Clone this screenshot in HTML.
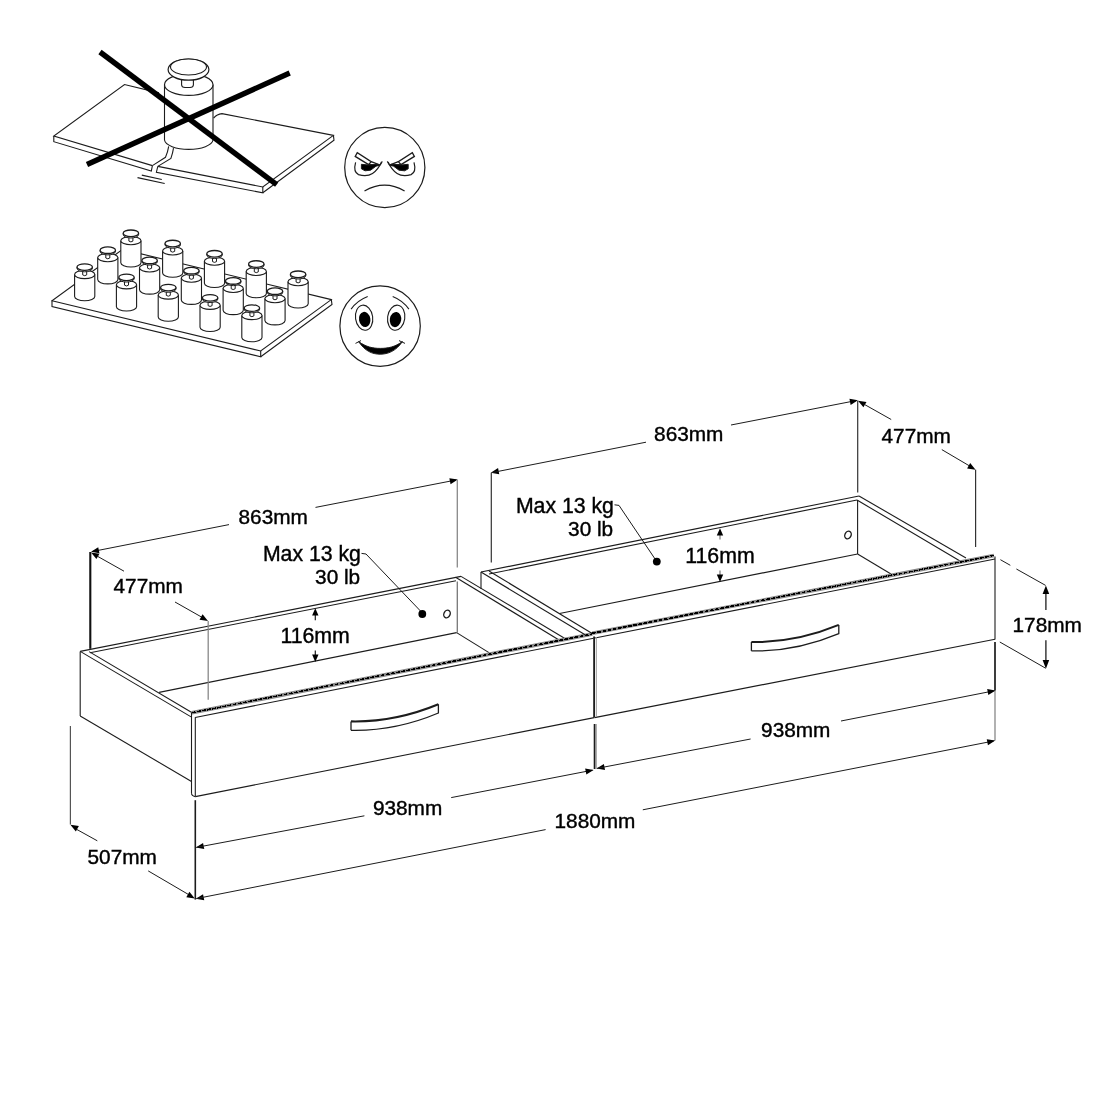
<!DOCTYPE html>
<html><head><meta charset="utf-8"><title>Drawer dimensions</title>
<style>html,body{margin:0;padding:0;background:#fff}svg{display:block;will-change:transform}text{font-family:"Liberation Sans",sans-serif;fill:#000;stroke:#000;stroke-width:0.4px}</style>
</head><body>
<svg width="1100" height="1100" viewBox="0 0 1100 1100">
<rect width="1100" height="1100" fill="#fff"/>
<path d="M152.4,165.6 L53.8,136 L124.5,84.5 L159,92.9" stroke="#1c1c1c" stroke-width="1.1" fill="none" />
<path d="M53.8,136 L53.8,141.7 L151.3,171.1 L152.4,165.6" stroke="#1c1c1c" stroke-width="1.1" fill="none" />
<path d="M152.4,165.6 L165.5,157.3 Q167.8,152 168.7,146.4" stroke="#1c1c1c" stroke-width="1.1" fill="none" />
<path d="M157.8,166.4 L170.9,158.4 Q172.8,153 173.5,148.2" stroke="#1c1c1c" stroke-width="1.1" fill="none" />
<path d="M157.8,166.4 L262.8,187 L333.4,135.4 L222,113.6 Q217,114 213.6,118.2" stroke="#1c1c1c" stroke-width="1.1" fill="none" />
<path d="M157.8,166.4 L156.4,172.2 L262.8,192.8 L262.8,187" stroke="#1c1c1c" stroke-width="1.1" fill="none" />
<path d="M262.8,192.8 L334,140.3 L333.4,135.4" stroke="#1c1c1c" stroke-width="1.1" fill="none" />
<line x1="141.80" y1="175.10" x2="161.80" y2="179.50" stroke="#1c1c1c" stroke-width="1.1" />
<line x1="137.50" y1="177.60" x2="164.70" y2="183.50" stroke="#1c1c1c" stroke-width="1.1" />
<path d="M164.5,84.7 L164.5,140 A24.3,10 0 0 0 213,140 L213,84.7" stroke="#1c1c1c" stroke-width="1.1" fill="#fff" />
<ellipse cx="188.75" cy="84.7" rx="24.25" ry="10.7" fill="#fff" stroke="#1c1c1c" stroke-width="1.2"/>
<path d="M181.6,79 L181.6,85 Q181.8,87.4 185,87.5 L190,87.5 Q193.2,87.4 193.4,85 L193.4,79" stroke="#1c1c1c" stroke-width="1.1" fill="#fff" />
<ellipse cx="188.5" cy="69.6" rx="20.4" ry="10.6" fill="#fff" stroke="#1c1c1c" stroke-width="1.2"/>
<ellipse cx="188.5" cy="67" rx="18" ry="8" fill="#fff" stroke="#1c1c1c" stroke-width="1.1"/>
<line x1="100.00" y1="52.00" x2="276.70" y2="184.60" stroke="#000" stroke-width="5.4" stroke-linecap="butt"/>
<line x1="87.00" y1="164.50" x2="289.70" y2="73.00" stroke="#000" stroke-width="5.4" stroke-linecap="butt"/>
<circle cx="384.8" cy="167.5" r="40.1" fill="none" stroke="#1c1c1c" stroke-width="1.2"/>
<path d="M357.30,152.6 L355.20,156.4 L368.60,164.6 L371.20,161.6 Z" stroke="#1c1c1c" stroke-width="1.3" fill="none" />
<path d="M368.60,164.6 L380.20,165.2 L371.20,161.6" stroke="#1c1c1c" stroke-width="1.3" fill="none" />
<path d="M380.20,165 L382.30,161.4" stroke="#1c1c1c" stroke-width="1.1" fill="none" />
<path d="M355.60,162.4 Q353.00,172 358.50,174.6 Q367.00,177 372.50,173.4 Q378.00,170 381.50,162" stroke="#1c1c1c" stroke-width="1.2" fill="none" />
<path d="M361.40,164.3 L361.40,168.8 L365.00,170.8 L370.60,170.2 L376.00,166.2 L379.60,165.2 L378.00,164.3 L368.50,165 Z" stroke="#1c1c1c" stroke-width="1" fill="#000" />
<path d="M412.30,152.6 L414.40,156.4 L401.00,164.6 L398.40,161.6 Z" stroke="#1c1c1c" stroke-width="1.3" fill="none" />
<path d="M401.00,164.6 L389.40,165.2 L398.40,161.6" stroke="#1c1c1c" stroke-width="1.3" fill="none" />
<path d="M389.40,165 L387.30,161.4" stroke="#1c1c1c" stroke-width="1.1" fill="none" />
<path d="M414.00,162.4 Q416.60,172 411.10,174.6 Q402.60,177 397.10,173.4 Q391.60,170 388.10,162" stroke="#1c1c1c" stroke-width="1.2" fill="none" />
<path d="M408.20,164.3 L408.20,168.8 L404.60,170.8 L399.00,170.2 L393.60,166.2 L390.00,165.2 L391.60,164.3 L401.10,165 Z" stroke="#1c1c1c" stroke-width="1" fill="#000" />
<path d="M364.5,191 Q384.6,179.4 404.6,191" stroke="#1c1c1c" stroke-width="1.3" fill="none" />
<path d="M52,300.8 L260.7,351 L331.3,299.6 L122.6,249.4 Z" stroke="#1c1c1c" stroke-width="1.1" fill="none" />
<path d="M52,300.8 L52,306.5 L260.7,356.8 L260.7,351" stroke="#1c1c1c" stroke-width="1.1" fill="none" />
<path d="M260.7,356.8 L332.0,304.5 L331.3,299.6" stroke="#1c1c1c" stroke-width="1.1" fill="none" />
<path d="M120.80,240.70 L120.80,262.70 A10.1,4.3 0 0 0 141.00,262.70 L141.00,240.70" stroke="#1c1c1c" stroke-width="1.1" fill="#fff" />
<ellipse cx="130.90" cy="240.70" rx="10.1" ry="4.1" fill="#fff" stroke="#1c1c1c" stroke-width="1.1"/>
<path d="M128.90,236.70 L128.90,241.10 Q130.90,242.70 132.90,241.10 L132.90,236.70" stroke="#1c1c1c" stroke-width="1" fill="#fff" />
<path d="M123.20,233.30 L123.20,234.50 A7.7,3.5 0 0 0 138.60,234.50 L138.60,233.30" stroke="#1c1c1c" stroke-width="1" fill="#fff" />
<ellipse cx="130.90" cy="233.30" rx="7.7" ry="3.3" fill="#fff" stroke="#1c1c1c" stroke-width="1.3"/>
<path d="M162.60,250.95 L162.60,272.95 A10.1,4.3 0 0 0 182.80,272.95 L182.80,250.95" stroke="#1c1c1c" stroke-width="1.1" fill="#fff" />
<ellipse cx="172.70" cy="250.95" rx="10.1" ry="4.1" fill="#fff" stroke="#1c1c1c" stroke-width="1.1"/>
<path d="M170.70,246.95 L170.70,251.35 Q172.70,252.95 174.70,251.35 L174.70,246.95" stroke="#1c1c1c" stroke-width="1" fill="#fff" />
<path d="M165.00,243.55 L165.00,244.75 A7.7,3.5 0 0 0 180.40,244.75 L180.40,243.55" stroke="#1c1c1c" stroke-width="1" fill="#fff" />
<ellipse cx="172.70" cy="243.55" rx="7.7" ry="3.3" fill="#fff" stroke="#1c1c1c" stroke-width="1.3"/>
<path d="M204.40,261.20 L204.40,283.20 A10.1,4.3 0 0 0 224.60,283.20 L224.60,261.20" stroke="#1c1c1c" stroke-width="1.1" fill="#fff" />
<ellipse cx="214.50" cy="261.20" rx="10.1" ry="4.1" fill="#fff" stroke="#1c1c1c" stroke-width="1.1"/>
<path d="M212.50,257.20 L212.50,261.60 Q214.50,263.20 216.50,261.60 L216.50,257.20" stroke="#1c1c1c" stroke-width="1" fill="#fff" />
<path d="M206.80,253.80 L206.80,255.00 A7.7,3.5 0 0 0 222.20,255.00 L222.20,253.80" stroke="#1c1c1c" stroke-width="1" fill="#fff" />
<ellipse cx="214.50" cy="253.80" rx="7.7" ry="3.3" fill="#fff" stroke="#1c1c1c" stroke-width="1.3"/>
<path d="M246.20,271.45 L246.20,293.45 A10.1,4.3 0 0 0 266.40,293.45 L266.40,271.45" stroke="#1c1c1c" stroke-width="1.1" fill="#fff" />
<ellipse cx="256.30" cy="271.45" rx="10.1" ry="4.1" fill="#fff" stroke="#1c1c1c" stroke-width="1.1"/>
<path d="M254.30,267.45 L254.30,271.85 Q256.30,273.45 258.30,271.85 L258.30,267.45" stroke="#1c1c1c" stroke-width="1" fill="#fff" />
<path d="M248.60,264.05 L248.60,265.25 A7.7,3.5 0 0 0 264.00,265.25 L264.00,264.05" stroke="#1c1c1c" stroke-width="1" fill="#fff" />
<ellipse cx="256.30" cy="264.05" rx="7.7" ry="3.3" fill="#fff" stroke="#1c1c1c" stroke-width="1.3"/>
<path d="M288.00,281.70 L288.00,303.70 A10.1,4.3 0 0 0 308.20,303.70 L308.20,281.70" stroke="#1c1c1c" stroke-width="1.1" fill="#fff" />
<ellipse cx="298.10" cy="281.70" rx="10.1" ry="4.1" fill="#fff" stroke="#1c1c1c" stroke-width="1.1"/>
<path d="M296.10,277.70 L296.10,282.10 Q298.10,283.70 300.10,282.10 L300.10,277.70" stroke="#1c1c1c" stroke-width="1" fill="#fff" />
<path d="M290.40,274.30 L290.40,275.50 A7.7,3.5 0 0 0 305.80,275.50 L305.80,274.30" stroke="#1c1c1c" stroke-width="1" fill="#fff" />
<ellipse cx="298.10" cy="274.30" rx="7.7" ry="3.3" fill="#fff" stroke="#1c1c1c" stroke-width="1.3"/>
<path d="M97.70,257.60 L97.70,279.60 A10.1,4.3 0 0 0 117.90,279.60 L117.90,257.60" stroke="#1c1c1c" stroke-width="1.1" fill="#fff" />
<ellipse cx="107.80" cy="257.60" rx="10.1" ry="4.1" fill="#fff" stroke="#1c1c1c" stroke-width="1.1"/>
<path d="M105.80,253.60 L105.80,258.00 Q107.80,259.60 109.80,258.00 L109.80,253.60" stroke="#1c1c1c" stroke-width="1" fill="#fff" />
<path d="M100.10,250.20 L100.10,251.40 A7.7,3.5 0 0 0 115.50,251.40 L115.50,250.20" stroke="#1c1c1c" stroke-width="1" fill="#fff" />
<ellipse cx="107.80" cy="250.20" rx="7.7" ry="3.3" fill="#fff" stroke="#1c1c1c" stroke-width="1.3"/>
<path d="M139.50,267.85 L139.50,289.85 A10.1,4.3 0 0 0 159.70,289.85 L159.70,267.85" stroke="#1c1c1c" stroke-width="1.1" fill="#fff" />
<ellipse cx="149.60" cy="267.85" rx="10.1" ry="4.1" fill="#fff" stroke="#1c1c1c" stroke-width="1.1"/>
<path d="M147.60,263.85 L147.60,268.25 Q149.60,269.85 151.60,268.25 L151.60,263.85" stroke="#1c1c1c" stroke-width="1" fill="#fff" />
<path d="M141.90,260.45 L141.90,261.65 A7.7,3.5 0 0 0 157.30,261.65 L157.30,260.45" stroke="#1c1c1c" stroke-width="1" fill="#fff" />
<ellipse cx="149.60" cy="260.45" rx="7.7" ry="3.3" fill="#fff" stroke="#1c1c1c" stroke-width="1.3"/>
<path d="M181.30,278.10 L181.30,300.10 A10.1,4.3 0 0 0 201.50,300.10 L201.50,278.10" stroke="#1c1c1c" stroke-width="1.1" fill="#fff" />
<ellipse cx="191.40" cy="278.10" rx="10.1" ry="4.1" fill="#fff" stroke="#1c1c1c" stroke-width="1.1"/>
<path d="M189.40,274.10 L189.40,278.50 Q191.40,280.10 193.40,278.50 L193.40,274.10" stroke="#1c1c1c" stroke-width="1" fill="#fff" />
<path d="M183.70,270.70 L183.70,271.90 A7.7,3.5 0 0 0 199.10,271.90 L199.10,270.70" stroke="#1c1c1c" stroke-width="1" fill="#fff" />
<ellipse cx="191.40" cy="270.70" rx="7.7" ry="3.3" fill="#fff" stroke="#1c1c1c" stroke-width="1.3"/>
<path d="M223.10,288.35 L223.10,310.35 A10.1,4.3 0 0 0 243.30,310.35 L243.30,288.35" stroke="#1c1c1c" stroke-width="1.1" fill="#fff" />
<ellipse cx="233.20" cy="288.35" rx="10.1" ry="4.1" fill="#fff" stroke="#1c1c1c" stroke-width="1.1"/>
<path d="M231.20,284.35 L231.20,288.75 Q233.20,290.35 235.20,288.75 L235.20,284.35" stroke="#1c1c1c" stroke-width="1" fill="#fff" />
<path d="M225.50,280.95 L225.50,282.15 A7.7,3.5 0 0 0 240.90,282.15 L240.90,280.95" stroke="#1c1c1c" stroke-width="1" fill="#fff" />
<ellipse cx="233.20" cy="280.95" rx="7.7" ry="3.3" fill="#fff" stroke="#1c1c1c" stroke-width="1.3"/>
<path d="M264.90,298.60 L264.90,320.60 A10.1,4.3 0 0 0 285.10,320.60 L285.10,298.60" stroke="#1c1c1c" stroke-width="1.1" fill="#fff" />
<ellipse cx="275.00" cy="298.60" rx="10.1" ry="4.1" fill="#fff" stroke="#1c1c1c" stroke-width="1.1"/>
<path d="M273.00,294.60 L273.00,299.00 Q275.00,300.60 277.00,299.00 L277.00,294.60" stroke="#1c1c1c" stroke-width="1" fill="#fff" />
<path d="M267.30,291.20 L267.30,292.40 A7.7,3.5 0 0 0 282.70,292.40 L282.70,291.20" stroke="#1c1c1c" stroke-width="1" fill="#fff" />
<ellipse cx="275.00" cy="291.20" rx="7.7" ry="3.3" fill="#fff" stroke="#1c1c1c" stroke-width="1.3"/>
<path d="M74.60,274.50 L74.60,296.50 A10.1,4.3 0 0 0 94.80,296.50 L94.80,274.50" stroke="#1c1c1c" stroke-width="1.1" fill="#fff" />
<ellipse cx="84.70" cy="274.50" rx="10.1" ry="4.1" fill="#fff" stroke="#1c1c1c" stroke-width="1.1"/>
<path d="M82.70,270.50 L82.70,274.90 Q84.70,276.50 86.70,274.90 L86.70,270.50" stroke="#1c1c1c" stroke-width="1" fill="#fff" />
<path d="M77.00,267.10 L77.00,268.30 A7.7,3.5 0 0 0 92.40,268.30 L92.40,267.10" stroke="#1c1c1c" stroke-width="1" fill="#fff" />
<ellipse cx="84.70" cy="267.10" rx="7.7" ry="3.3" fill="#fff" stroke="#1c1c1c" stroke-width="1.3"/>
<path d="M116.40,284.75 L116.40,306.75 A10.1,4.3 0 0 0 136.60,306.75 L136.60,284.75" stroke="#1c1c1c" stroke-width="1.1" fill="#fff" />
<ellipse cx="126.50" cy="284.75" rx="10.1" ry="4.1" fill="#fff" stroke="#1c1c1c" stroke-width="1.1"/>
<path d="M124.50,280.75 L124.50,285.15 Q126.50,286.75 128.50,285.15 L128.50,280.75" stroke="#1c1c1c" stroke-width="1" fill="#fff" />
<path d="M118.80,277.35 L118.80,278.55 A7.7,3.5 0 0 0 134.20,278.55 L134.20,277.35" stroke="#1c1c1c" stroke-width="1" fill="#fff" />
<ellipse cx="126.50" cy="277.35" rx="7.7" ry="3.3" fill="#fff" stroke="#1c1c1c" stroke-width="1.3"/>
<path d="M158.20,295.00 L158.20,317.00 A10.1,4.3 0 0 0 178.40,317.00 L178.40,295.00" stroke="#1c1c1c" stroke-width="1.1" fill="#fff" />
<ellipse cx="168.30" cy="295.00" rx="10.1" ry="4.1" fill="#fff" stroke="#1c1c1c" stroke-width="1.1"/>
<path d="M166.30,291.00 L166.30,295.40 Q168.30,297.00 170.30,295.40 L170.30,291.00" stroke="#1c1c1c" stroke-width="1" fill="#fff" />
<path d="M160.60,287.60 L160.60,288.80 A7.7,3.5 0 0 0 176.00,288.80 L176.00,287.60" stroke="#1c1c1c" stroke-width="1" fill="#fff" />
<ellipse cx="168.30" cy="287.60" rx="7.7" ry="3.3" fill="#fff" stroke="#1c1c1c" stroke-width="1.3"/>
<path d="M200.00,305.25 L200.00,327.25 A10.1,4.3 0 0 0 220.20,327.25 L220.20,305.25" stroke="#1c1c1c" stroke-width="1.1" fill="#fff" />
<ellipse cx="210.10" cy="305.25" rx="10.1" ry="4.1" fill="#fff" stroke="#1c1c1c" stroke-width="1.1"/>
<path d="M208.10,301.25 L208.10,305.65 Q210.10,307.25 212.10,305.65 L212.10,301.25" stroke="#1c1c1c" stroke-width="1" fill="#fff" />
<path d="M202.40,297.85 L202.40,299.05 A7.7,3.5 0 0 0 217.80,299.05 L217.80,297.85" stroke="#1c1c1c" stroke-width="1" fill="#fff" />
<ellipse cx="210.10" cy="297.85" rx="7.7" ry="3.3" fill="#fff" stroke="#1c1c1c" stroke-width="1.3"/>
<path d="M241.80,315.50 L241.80,337.50 A10.1,4.3 0 0 0 262.00,337.50 L262.00,315.50" stroke="#1c1c1c" stroke-width="1.1" fill="#fff" />
<ellipse cx="251.90" cy="315.50" rx="10.1" ry="4.1" fill="#fff" stroke="#1c1c1c" stroke-width="1.1"/>
<path d="M249.90,311.50 L249.90,315.90 Q251.90,317.50 253.90,315.90 L253.90,311.50" stroke="#1c1c1c" stroke-width="1" fill="#fff" />
<path d="M244.20,308.10 L244.20,309.30 A7.7,3.5 0 0 0 259.60,309.30 L259.60,308.10" stroke="#1c1c1c" stroke-width="1" fill="#fff" />
<ellipse cx="251.90" cy="308.10" rx="7.7" ry="3.3" fill="#fff" stroke="#1c1c1c" stroke-width="1.3"/>
<circle cx="380.1" cy="326.1" r="40.2" fill="none" stroke="#1c1c1c" stroke-width="1.2"/>
<ellipse cx="364.1" cy="317.7" rx="8.6" ry="12.6" fill="none" stroke="#1c1c1c" stroke-width="1.1" transform="rotate(-8 364.1 317.7)"/>
<ellipse cx="396.2" cy="317.7" rx="8.6" ry="12.6" fill="none" stroke="#1c1c1c" stroke-width="1.1" transform="rotate(8 396.2 317.7)"/>
<ellipse cx="364.7" cy="319.4" rx="5.7" ry="7.6" fill="#000" transform="rotate(-10 364.7 319.4)"/>
<ellipse cx="395.5" cy="319.6" rx="5.7" ry="7.6" fill="#000" transform="rotate(10 395.5 319.6)"/>
<path d="M351.1,309.1 Q357,300.5 367.7,296.4" stroke="#1c1c1c" stroke-width="1.1" fill="none" />
<path d="M408.9,309.1 Q403,300.5 392.7,296.4" stroke="#1c1c1c" stroke-width="1.1" fill="none" />
<path d="M358.6,341.6 C366,347 373,348.4 380.2,348.4 C388,348.4 395,347 402.4,341.6 C396,351 388,354.2 380.2,354.2 C372,354.2 365,351 358.6,341.6 Z" stroke="#1c1c1c" stroke-width="1" fill="#000" />
<path d="M355.5,343.4 L361,340.6" stroke="#1c1c1c" stroke-width="1" fill="none" />
<path d="M405,343.4 L399,340.6" stroke="#1c1c1c" stroke-width="1" fill="none" />
<line x1="80.20" y1="651.40" x2="461.00" y2="576.40" stroke="#1c1c1c" stroke-width="1.1" />
<line x1="90.00" y1="652.70" x2="456.00" y2="580.70" stroke="#1c1c1c" stroke-width="1.1" />
<line x1="80.20" y1="651.40" x2="191.10" y2="716.90" stroke="#1c1c1c" stroke-width="1.1" />
<line x1="89.10" y1="651.60" x2="191.80" y2="712.50" stroke="#1c1c1c" stroke-width="1.1" />
<line x1="80.20" y1="651.40" x2="80.20" y2="716.00" stroke="#1c1c1c" stroke-width="1.1" />
<line x1="80.20" y1="716.00" x2="191.50" y2="781.50" stroke="#1c1c1c" stroke-width="1.1" />
<line x1="159.10" y1="692.40" x2="456.60" y2="632.60" stroke="#1c1c1c" stroke-width="1.1" />
<line x1="457.30" y1="581.50" x2="457.30" y2="632.60" stroke="#777" stroke-width="1.3" />
<line x1="456.60" y1="632.60" x2="489.00" y2="652.60" stroke="#1c1c1c" stroke-width="1.1" />
<line x1="461.00" y1="576.40" x2="564.50" y2="638.20" stroke="#1c1c1c" stroke-width="1.1" />
<line x1="455.60" y1="577.20" x2="558.20" y2="639.50" stroke="#1c1c1c" stroke-width="1.1" />
<ellipse cx="447.00" cy="614.00" rx="3.1" ry="3.9" fill="none" stroke="#1c1c1c" stroke-width="1.4" transform="rotate(25 447.00 614.00)"/>
<line x1="191.80" y1="712.80" x2="592.30" y2="634.00" stroke="#858585" stroke-width="3.6" />
<line x1="191.80" y1="712.80" x2="592.30" y2="634.00" stroke="#000" stroke-width="1.6" shape-rendering="crispEdges" stroke-dasharray="3.8 1.4"/>
<line x1="195.20" y1="717.50" x2="593.60" y2="638.20" stroke="#1c1c1c" stroke-width="1.1" />
<line x1="195.30" y1="796.60" x2="594.20" y2="717.60" stroke="#1c1c1c" stroke-width="1.1" />
<line x1="191.50" y1="712.50" x2="191.50" y2="793.50" stroke="#1c1c1c" stroke-width="1.1" />
<line x1="195.30" y1="717.30" x2="195.30" y2="796.60" stroke="#1c1c1c" stroke-width="1.1" />
<path d="M191.5,793.2 Q191.6,795.8 195.3,796.6" stroke="#1c1c1c" stroke-width="1.1" fill="none" />
<path d="M351.00,730.30 L351.00,721.40" stroke="#1c1c1c" stroke-width="1.3" fill="none" />
<path d="M351.00,721.40 Q395.00,722.30 438.40,704.30" stroke="#1c1c1c" stroke-width="2.1" fill="none" />
<path d="M438.40,704.30 L438.40,713.00 Q395.00,731.30 351.00,730.30" stroke="#1c1c1c" stroke-width="1.3" fill="none" />
<line x1="481.00" y1="572.00" x2="859.00" y2="496.00" stroke="#1c1c1c" stroke-width="1.1" />
<line x1="489.00" y1="574.00" x2="857.00" y2="500.00" stroke="#1c1c1c" stroke-width="1.1" />
<line x1="481.00" y1="572.00" x2="481.00" y2="589.00" stroke="#1c1c1c" stroke-width="1.1" />
<line x1="481.00" y1="572.00" x2="585.50" y2="635.00" stroke="#1c1c1c" stroke-width="1.1" />
<line x1="489.00" y1="571.00" x2="591.80" y2="633.20" stroke="#1c1c1c" stroke-width="1.1" />
<line x1="559.50" y1="613.50" x2="857.60" y2="554.00" stroke="#1c1c1c" stroke-width="1.1" />
<line x1="857.60" y1="500.00" x2="857.60" y2="554.00" stroke="#1c1c1c" stroke-width="1.1" />
<line x1="857.60" y1="554.00" x2="891.00" y2="574.00" stroke="#1c1c1c" stroke-width="1.1" />
<line x1="859.00" y1="496.00" x2="966.00" y2="558.00" stroke="#1c1c1c" stroke-width="1.1" />
<line x1="857.00" y1="500.00" x2="960.00" y2="561.00" stroke="#1c1c1c" stroke-width="1.1" />
<ellipse cx="848.00" cy="535.00" rx="3.1" ry="3.9" fill="none" stroke="#1c1c1c" stroke-width="1.4" transform="rotate(25 848.00 535.00)"/>
<line x1="592.30" y1="633.30" x2="994.00" y2="555.40" stroke="#858585" stroke-width="3.6" />
<line x1="592.30" y1="633.30" x2="994.00" y2="555.40" stroke="#000" stroke-width="1.6" shape-rendering="crispEdges" stroke-dasharray="3.8 1.4"/>
<line x1="595.00" y1="638.00" x2="995.00" y2="559.00" stroke="#1c1c1c" stroke-width="1.1" />
<line x1="594.60" y1="717.60" x2="995.00" y2="639.20" stroke="#1c1c1c" stroke-width="1.1" />
<line x1="995.00" y1="556.40" x2="995.00" y2="639.40" stroke="#1c1c1c" stroke-width="1.1" />
<path d="M751.40,650.90 L751.40,642.00" stroke="#1c1c1c" stroke-width="1.3" fill="none" />
<path d="M751.40,642.00 Q795.40,642.90 838.80,624.90" stroke="#1c1c1c" stroke-width="2.1" fill="none" />
<path d="M838.80,624.90 L838.80,633.60 Q795.40,651.90 751.40,650.90" stroke="#1c1c1c" stroke-width="1.3" fill="none" />
<line x1="594.10" y1="636.40" x2="594.10" y2="717.40" stroke="#1c1c1c" stroke-width="1.8" />
<line x1="596.30" y1="637.00" x2="596.30" y2="717.00" stroke="#999" stroke-width="1" />
<line x1="594.60" y1="724.00" x2="594.60" y2="769.00" stroke="#1c1c1c" stroke-width="1.8" />
<line x1="596.30" y1="724.00" x2="596.30" y2="769.00" stroke="#999" stroke-width="1" />
<line x1="90.30" y1="552.00" x2="90.30" y2="648.80" stroke="#111" stroke-width="2.1" />
<line x1="92.00" y1="551.60" x2="229.00" y2="524.60" stroke="#1c1c1c" stroke-width="1" />
<line x1="315.50" y1="507.40" x2="456.00" y2="480.00" stroke="#1c1c1c" stroke-width="1" />
<polygon points="91.00,551.80 98.24,547.19 99.45,553.27" fill="#000"/>
<polygon points="457.80,479.60 450.56,484.21 449.35,478.13" fill="#000"/>
<line x1="457.30" y1="480.00" x2="457.30" y2="567.60" stroke="#888" stroke-width="1.3" />
<text x="238.50" y="523.60" font-size="20.8" text-anchor="start">863mm</text>
<polygon points="91.00,552.40 99.49,553.65 96.43,559.04" fill="#000"/>
<line x1="97.00" y1="556.00" x2="124.00" y2="571.20" stroke="#1c1c1c" stroke-width="1" />
<line x1="175.00" y1="602.00" x2="205.00" y2="619.00" stroke="#1c1c1c" stroke-width="1" />
<polygon points="208.00,620.90 199.51,619.65 202.57,614.26" fill="#000"/>
<line x1="208.20" y1="621.00" x2="208.20" y2="699.80" stroke="#888" stroke-width="1.3" />
<text x="113.50" y="593.40" font-size="20.8" text-anchor="start">477mm</text>
<text x="262.90" y="561.40" font-size="21.25" text-anchor="start">Max 13 kg</text>
<text x="315.10" y="583.80" font-size="20.8" text-anchor="start">30 lb</text>
<path d="M361.5,553.4 L366,554 L421.6,612.2" stroke="#1c1c1c" stroke-width="1" fill="none" />
<circle cx="422.3" cy="614" r="3.9" fill="#000"/>
<text x="280.40" y="642.80" font-size="21.3" text-anchor="start">116mm</text>
<line x1="315.30" y1="614.00" x2="315.30" y2="620.20" stroke="#1c1c1c" stroke-width="1.2" />
<polygon points="315.30,608.20 318.50,615.60 312.10,615.60" fill="#000"/>
<line x1="315.30" y1="650.40" x2="315.30" y2="656.00" stroke="#1c1c1c" stroke-width="1.2" />
<polygon points="315.30,662.00 312.10,654.60 318.50,654.60" fill="#000"/>
<line x1="491.30" y1="472.80" x2="491.30" y2="562.60" stroke="#333" stroke-width="1.2" />
<polygon points="490.80,472.70 498.04,468.09 499.25,474.17" fill="#000"/>
<line x1="492.00" y1="472.60" x2="646.00" y2="442.20" stroke="#1c1c1c" stroke-width="1" />
<line x1="731.00" y1="425.00" x2="856.00" y2="400.60" stroke="#1c1c1c" stroke-width="1" />
<polygon points="857.90,400.30 850.66,404.91 849.45,398.83" fill="#000"/>
<line x1="857.70" y1="400.80" x2="857.70" y2="492.50" stroke="#333" stroke-width="1.2" />
<text x="654.10" y="441.00" font-size="20.8" text-anchor="start">863mm</text>
<polygon points="858.00,400.70 866.49,401.95 863.43,407.34" fill="#000"/>
<line x1="863.30" y1="403.80" x2="891.20" y2="419.50" stroke="#1c1c1c" stroke-width="1" />
<line x1="941.80" y1="449.60" x2="972.00" y2="467.40" stroke="#1c1c1c" stroke-width="1" />
<polygon points="975.60,469.70 967.11,468.45 970.17,463.06" fill="#000"/>
<line x1="975.60" y1="469.70" x2="975.60" y2="547.00" stroke="#333" stroke-width="1.2" />
<text x="881.50" y="442.60" font-size="20.8" text-anchor="start">477mm</text>
<text x="515.90" y="513.20" font-size="21.25" text-anchor="start">Max 13 kg</text>
<text x="568.10" y="536.20" font-size="20.8" text-anchor="start">30 lb</text>
<path d="M614.5,504.8 L619,505.4 L656,560.4" stroke="#1c1c1c" stroke-width="1" fill="none" />
<circle cx="656.8" cy="561.6" r="3.9" fill="#000"/>
<text x="685.20" y="562.60" font-size="21.3" text-anchor="start">116mm</text>
<line x1="720.00" y1="534.00" x2="720.00" y2="539.60" stroke="#777" stroke-width="1.2" />
<polygon points="720.00,528.20 723.20,535.60 716.80,535.60" fill="#000"/>
<line x1="720.00" y1="570.40" x2="720.00" y2="576.00" stroke="#777" stroke-width="1.2" />
<polygon points="720.00,582.00 716.80,574.60 723.20,574.60" fill="#000"/>
<line x1="1000.40" y1="559.70" x2="1010.30" y2="565.30" stroke="#1c1c1c" stroke-width="1" />
<line x1="1016.40" y1="569.00" x2="1045.60" y2="585.40" stroke="#1c1c1c" stroke-width="1" />
<line x1="999.80" y1="642.00" x2="1045.60" y2="668.20" stroke="#1c1c1c" stroke-width="1" />
<line x1="1045.90" y1="592.00" x2="1045.90" y2="610.00" stroke="#1c1c1c" stroke-width="1.3" />
<line x1="1045.90" y1="640.20" x2="1045.90" y2="662.00" stroke="#1c1c1c" stroke-width="1.3" />
<polygon points="1045.90,585.40 1049.20,594.10 1042.60,594.10" fill="#000"/>
<polygon points="1045.90,668.80 1042.60,660.10 1049.20,660.10" fill="#000"/>
<text x="1012.50" y="631.80" font-size="20.8" text-anchor="start">178mm</text>
<line x1="995.00" y1="642.00" x2="995.00" y2="690.40" stroke="#1c1c1c" stroke-width="1.7" />
<line x1="995.00" y1="690.40" x2="995.00" y2="740.60" stroke="#888" stroke-width="1.3" />
<polygon points="596.60,768.60 603.84,763.99 605.05,770.07" fill="#000"/>
<line x1="597.00" y1="768.40" x2="750.60" y2="739.00" stroke="#1c1c1c" stroke-width="1" />
<line x1="841.00" y1="721.00" x2="993.60" y2="690.90" stroke="#1c1c1c" stroke-width="1" />
<polygon points="995.60,690.50 988.36,695.11 987.15,689.03" fill="#000"/>
<text x="761.10" y="736.80" font-size="20.8" text-anchor="start">938mm</text>
<polygon points="195.80,847.60 203.04,842.99 204.25,849.07" fill="#000"/>
<line x1="196.40" y1="847.40" x2="364.40" y2="815.80" stroke="#1c1c1c" stroke-width="1" />
<line x1="451.20" y1="797.60" x2="592.40" y2="770.20" stroke="#1c1c1c" stroke-width="1" />
<polygon points="593.60,770.00 586.36,774.61 585.15,768.53" fill="#000"/>
<text x="372.90" y="815.00" font-size="20.8" text-anchor="start">938mm</text>
<polygon points="195.80,898.80 203.04,894.19 204.25,900.27" fill="#000"/>
<line x1="196.40" y1="898.60" x2="545.60" y2="829.60" stroke="#1c1c1c" stroke-width="1" />
<line x1="642.80" y1="809.80" x2="993.60" y2="741.00" stroke="#1c1c1c" stroke-width="1" />
<polygon points="995.20,740.60 987.96,745.21 986.75,739.13" fill="#000"/>
<text x="554.50" y="828.20" font-size="20.8" text-anchor="start">1880mm</text>
<line x1="195.30" y1="800.20" x2="195.30" y2="899.60" stroke="#1c1c1c" stroke-width="1.6" />
<line x1="70.40" y1="726.00" x2="70.40" y2="824.40" stroke="#555" stroke-width="1.2" />
<polygon points="70.40,824.80 78.89,826.05 75.83,831.44" fill="#000"/>
<line x1="76.90" y1="829.50" x2="97.30" y2="840.80" stroke="#1c1c1c" stroke-width="1" />
<line x1="148.20" y1="870.90" x2="190.00" y2="895.40" stroke="#1c1c1c" stroke-width="1" />
<polygon points="194.80,898.40 186.31,897.15 189.37,891.76" fill="#000"/>
<text x="87.50" y="864.20" font-size="20.8" text-anchor="start">507mm</text>
</svg></body></html>
